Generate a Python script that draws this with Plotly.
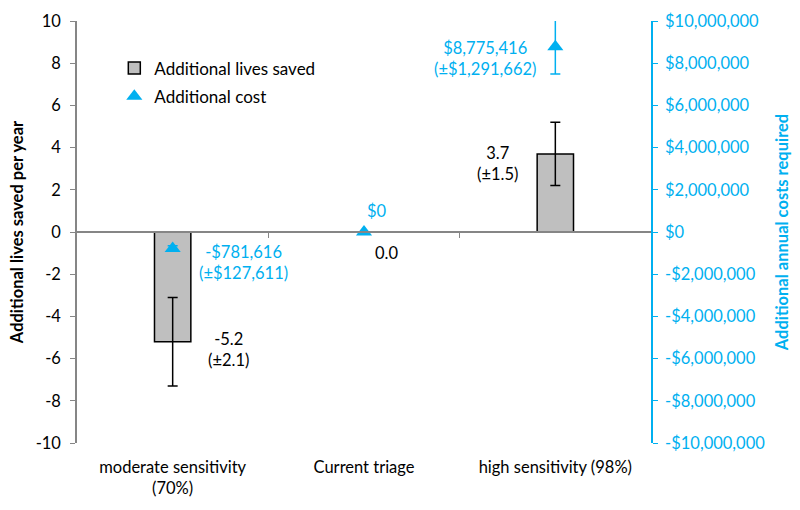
import plotly.graph_objects as go

categories = ["moderate sensitivity<br>(70%)", "Current triage", "high sensitivity (98%)"]
lives = [-5.2, 0.0, 3.7]
lives_err = [2.1, 0.0, 1.5]
cost = [-781616, 0, 8775416]
cost_err = [127611, 0, 1291662]

left_tickvals = [-10, -8, -6, -4, -2, 0, 2, 4, 6, 8, 10]
left_ticktext = ["-10", "-8", "-6", "-4", "-2", "0", "2", "4", "6", "8", "10"]
right_tickvals = [-10e6, -8e6, -6e6, -4e6, -2e6, 0, 2e6, 4e6, 6e6, 8e6, 10e6]
right_ticktext = ["-$10,000,000", "-$8,000,000", "-$6,000,000", "-$4,000,000", "-$2,000,000", "$0",
                  "$2,000,000", "$4,000,000", "$6,000,000", "$8,000,000", "$10,000,000"]

CYAN = "#00B0F0"
FONT = "Lato"
FS = 16.5
xs = [0, 1, 2]

def fmt_money(v):
    s = "${:,.0f}".format(abs(v))
    return ("-" + s) if v < 0 else s

fig = go.Figure()
fig.add_trace(go.Bar(
    x=xs, y=lives, width=0.19, name="Additional lives saved", legendgroup="a",
    marker=dict(color="#BFBFBF", line=dict(color="black", width=1.5)),
    error_y=dict(type="data", array=[e if e else None for e in lives_err], visible=True,
                 color="black", thickness=1.5, width=5),
))
fig.add_trace(go.Scatter(
    x=xs, y=cost, mode="markers", name="Additional cost", yaxis="y2", legendgroup="b",
    marker=dict(symbol="triangle-up", size=14, color=CYAN),
    error_y=dict(type="data", array=cost_err, visible=True, color=CYAN, thickness=1.5, width=5),
))

life_offsets = [(0.29, -0.35), (0.12, -1.0), (-0.3, -0.45)]
for i, v in enumerate(lives):
    e = lives_err[i]
    txt = "{:.1f}".format(v) if e == 0 else "{:.1f}<br>(±{:.1f})".format(v, e)
    dx, dy = life_offsets[i]
    fig.add_annotation(x=xs[i] + dx, y=v + dy, text=txt, showarrow=False,
                       font=dict(family=FONT, size=FS, color="black"))

cost_offsets = [(0.37, -0.65e6), (0.07, 1.0e6), (-0.37, -0.55e6)]
for i, v in enumerate(cost):
    e = cost_err[i]
    txt = fmt_money(v) if e == 0 else "{}<br>(±{})".format(fmt_money(v), fmt_money(e))
    dx, dy = cost_offsets[i]
    fig.add_annotation(x=xs[i] + dx, y=v + dy, text=txt, showarrow=False, yref="y2",
                       font=dict(family=FONT, size=FS, color=CYAN))

fig.update_layout(
    width=800, height=510,
    margin=dict(l=77, r=149, t=21, b=67),
    plot_bgcolor="white", paper_bgcolor="white",
    font=dict(family=FONT, size=FS, color="black"),
    xaxis=dict(range=[-0.5, 2.5], tickvals=xs, ticktext=categories, showline=False,
               ticks="", showgrid=False, zeroline=False, automargin=False,
               ticklabelstandoff=12,
               tickfont=dict(family=FONT, size=FS, color="black")),
    xaxis2=dict(range=[-0.5, 2.5], overlaying="x", anchor="free", position=0.5,
                showline=True, linecolor="#868686", linewidth=1.5, ticks="outside",
                tickvals=[0.5, 1.5], ticklen=5, tickcolor="#868686", showticklabels=False,
                showgrid=False, zeroline=False, automargin=False),
    yaxis=dict(range=[-10, 10], tickvals=left_tickvals, ticktext=left_ticktext,
               showline=True, linecolor="#868686",
               linewidth=1.5, ticks="outside", ticklen=5, tickcolor="#868686",
               showgrid=False, zeroline=False, automargin=False,
               ticklabelstandoff=6,
               tickfont=dict(family=FONT, size=FS, color="black"),
               title=dict(text="<b>Additional lives saved per year</b>", standoff=8,
                          font=dict(family=FONT, size=FS, color="black"))),
    yaxis2=dict(range=[-10e6, 10e6], overlaying="y", side="right", tickvals=right_tickvals,
                ticktext=right_ticktext, showline=True, linecolor=CYAN, linewidth=1.5,
                ticks="outside", ticklen=5, tickcolor=CYAN, showgrid=False, zeroline=False,
                automargin=False, ticklabelstandoff=4,
                tickfont=dict(family=FONT, size=FS, color=CYAN),
                title=dict(text="<b>Additional annual costs required</b>", standoff=12,
                           font=dict(family=FONT, size=FS, color=CYAN))),
    legend=dict(x=0.065, y=0.93, xanchor="left", yanchor="top", bgcolor="rgba(0,0,0,0)",
                font=dict(family=FONT, size=17, color="black"), tracegroupgap=3,
                itemwidth=30),
    showlegend=True,
)
fig.add_trace(go.Scatter(x=[None], y=[None], xaxis="x2", showlegend=False, hoverinfo="skip"))

fig.write_html("out.html", config={"displayModeBar": False},
               post_script="document.body.style.margin='0';document.body.style.overflow='hidden';")
